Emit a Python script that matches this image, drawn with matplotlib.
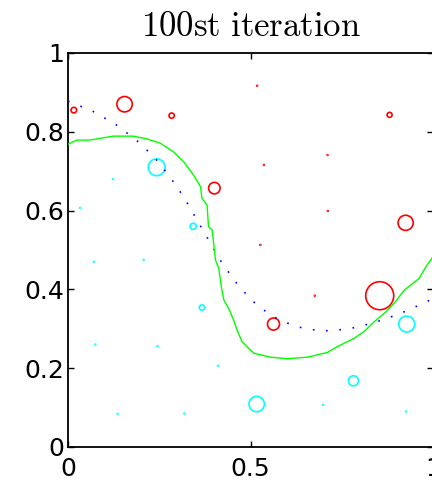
import matplotlib
matplotlib.use("Agg")
import matplotlib.pyplot as plt
import numpy as np

# particles (position and relative weight)
red_x = [0.016, 0.155, 0.284, 0.518, 0.881, 0.711, 0.537, 0.401, 0.712, 0.925, 0.527, 0.676, 0.854, 0.563]
red_y = [0.855, 0.870, 0.841, 0.917, 0.843, 0.741, 0.716, 0.657, 0.599, 0.569, 0.513, 0.384, 0.384, 0.312]
red_w = [0.20, 0.55, 0.19, 0.03, 0.18, 0.03, 0.03, 0.41, 0.03, 0.54, 0.03, 0.03, 1.00, 0.43]

cyan_x = [0.243, 0.123, 0.033, 0.343, 0.207, 0.071, 0.367, 0.928, 0.075, 0.245, 0.411,
          0.782, 0.517, 0.699, 0.136, 0.319, 0.926]
cyan_y = [0.710, 0.680, 0.607, 0.560, 0.475, 0.470, 0.354, 0.312, 0.260, 0.256, 0.206,
          0.168, 0.109, 0.107, 0.084, 0.085, 0.090]
cyan_w = [0.60, 0.03, 0.03, 0.22, 0.03, 0.03, 0.19, 0.57, 0.03, 0.03, 0.03,
          0.36, 0.55, 0.03, 0.03, 0.03, 0.03]

# true curve (dotted blue)
true_x = [0.0, 0.068, 0.130, 0.186, 0.236, 0.279, 0.317, 0.351, 0.385, 0.418, 0.457,
          0.502, 0.557, 0.622, 0.693, 0.766, 0.837, 0.906, 0.972, 1.0]
true_y = [0.878, 0.852, 0.819, 0.780, 0.736, 0.686, 0.635, 0.580, 0.526, 0.473, 0.421,
          0.373, 0.333, 0.306, 0.294, 0.299, 0.315, 0.337, 0.364, 0.377]

# estimate (green)
est_x = [0.001, 0.024, 0.060, 0.124, 0.179, 0.216, 0.253, 0.289, 0.317, 0.344, 0.363,
         0.367, 0.381, 0.385, 0.395, 0.404, 0.413, 0.420, 0.427, 0.440, 0.454, 0.463,
         0.477, 0.509, 0.555, 0.601, 0.656, 0.711, 0.738, 0.784, 0.811, 0.839, 0.871,
         0.894, 0.921, 0.962, 0.981, 1.0]
est_y = [0.769, 0.779, 0.779, 0.789, 0.789, 0.782, 0.771, 0.749, 0.724, 0.690, 0.661,
         0.631, 0.614, 0.559, 0.551, 0.475, 0.454, 0.407, 0.373, 0.352, 0.322, 0.297,
         0.267, 0.238, 0.228, 0.224, 0.228, 0.240, 0.255, 0.276, 0.293, 0.318, 0.343,
         0.365, 0.398, 0.428, 0.458, 0.483]

plt.rcParams['mathtext.fontset'] = 'cm'

fig = plt.figure(figsize=(4.32, 4.84), dpi=100)
ax = fig.add_axes([68/432, 37/484, 365/432, 394/484])

# weight -> marker area (points^2)
def msize(w):
    return (np.array(w) * 2 * 14.0 * 0.72) ** 2

ax.scatter(red_x, red_y, s=msize(red_w), facecolors='none', edgecolors='red', linewidths=1.2, zorder=2)
ax.scatter(cyan_x, cyan_y, s=msize(cyan_w), facecolors='none', edgecolors='cyan', linewidths=1.2, zorder=2)
ax.plot(true_x, true_y, color='blue', lw=1.2, linestyle=(0, (1, 7)), zorder=3)
ax.plot(est_x, est_y, color=(0, 1, 0), lw=1.0, zorder=3)

ax.set_xlim(0, 1)
ax.set_ylim(0, 1)
ax.set_xticks([0, 0.5, 1])
ax.set_xticklabels(['0', '0.5', '1'])
ax.set_yticks([0, 0.2, 0.4, 0.6, 0.8, 1])
ax.set_yticklabels(['0', '0.2', '0.4', '0.6', '0.8', '1'])
ax.tick_params(direction='in', length=4, width=1, top=True, right=True, labelsize=18)
ax.tick_params(axis='x', pad=7)
ax.tick_params(axis='y', pad=3)
for s in ax.spines.values():
    s.set_linewidth(1.3)

ax.set_title(r'$\mathrm{100st\ iteration}$', fontsize=25, pad=12)

plt.savefig('out.png', dpi=100)
